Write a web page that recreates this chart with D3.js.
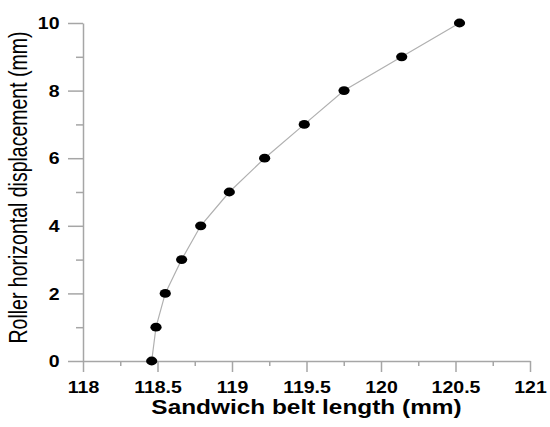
<!DOCTYPE html>
<html>
<head>
<meta charset="utf-8">
<script src="https://cdn.jsdelivr.net/npm/d3@7"></script>
<style>
  html, body { margin: 0; padding: 0; background: #fff; }
  svg { display: block; }
</style>
</head>
<body>
<svg id="chart" width="550" height="427"></svg>
<script>
// ---- data ----
const beltLength = [118.461, 118.49, 118.552, 118.662, 118.79, 118.982, 119.219, 119.485, 119.752, 120.139, 120.527];
const displacement = [0, 1, 2, 3, 4, 5, 6, 7, 8, 9, 10];
const xTicks = [118, 118.5, 119, 119.5, 120, 120.5, 121];
const xMinorTicks = [118.25, 118.75, 119.25, 119.75, 120.25, 120.75];
const yTicks = [0, 2, 4, 6, 8, 10];
const yMinorTicks = [1, 3, 5, 7, 9];
const xTitle = "Sandwich belt length (mm)";
const yTitle = "Roller horizontal displacement (mm)";

const svg = d3.select("#chart");
const x = d3.scaleLinear().domain([118, 121]).range([83, 530]);
const y = d3.scaleLinear().domain([0, 10]).range([361, 23]);

const axisColor = "#a6a6a6";
const stretch = 1.22;

// x axis
const gx = svg.append("g").attr("transform", `translate(0,${y(0)})`);
gx.call(d3.axisBottom(x).tickValues(xTicks).tickSize(11).tickSizeOuter(0).tickPadding(8)
  .tickFormat(d => d3.format("")(d)));
gx.append("g").call(d3.axisBottom(x).tickValues(xMinorTicks).tickSize(5).tickSizeOuter(0).tickFormat(""))
  .select(".domain").remove();

// y axis
const gy = svg.append("g").attr("transform", `translate(${x(118)},0)`);
gy.call(d3.axisLeft(y).tickValues(yTicks).tickSize(15).tickSizeOuter(0).tickPadding(9)
  .tickFormat(d3.format("d")));
gy.append("g").call(d3.axisLeft(y).tickValues(yMinorTicks).tickSize(7).tickSizeOuter(0).tickFormat(""))
  .select(".domain").remove();

svg.selectAll(".domain, .tick line").attr("stroke", axisColor).attr("stroke-width", 1.5);
svg.selectAll(".tick text")
  .attr("fill", "#000")
  .style("font-family", "'Liberation Sans', Arial, sans-serif")
  .style("font-weight", "bold")
  .style("font-size", "16px");

// widen tick labels horizontally (as in the reference)
gx.selectAll(".tick text").attr("y", 0).attr("dy", 0)
  .attr("transform", `translate(0,32) scale(${stretch},1)`);
gy.selectAll(".tick text").attr("x", 0).attr("dy", "0.36em")
  .attr("transform", `translate(-23.5,0) scale(${stretch},1)`);

// line
const line = d3.line().x((d, i) => x(beltLength[i])).y(d => y(d));
svg.append("path")
  .datum(displacement)
  .attr("d", line)
  .attr("fill", "none")
  .attr("stroke", "#b0b0b0")
  .attr("stroke-width", 1.2);

// points
svg.append("g").selectAll("ellipse")
  .data(displacement)
  .join("ellipse")
  .attr("cx", (d, i) => x(beltLength[i]))
  .attr("cy", d => y(d))
  .attr("rx", 5.6)
  .attr("ry", 4.4)
  .attr("fill", "#000");

// titles
svg.append("text")
  .attr("transform", "translate(306.5,414) scale(1.22,1)")
  .attr("text-anchor", "middle")
  .style("font-family", "'Liberation Sans', Arial, sans-serif")
  .style("font-weight", "bold")
  .style("font-size", "20px")
  .attr("fill", "#000")
  .text(xTitle);

svg.append("text")
  .attr("transform", "translate(27,187.5) scale(1.3,1) rotate(-90)")
  .attr("text-anchor", "middle")
  .style("font-family", "'Liberation Sans', Arial, sans-serif")
  .style("font-size", "19.5px")
  .attr("fill", "#000")
  .text(yTitle);
</script>
</body>
</html>
